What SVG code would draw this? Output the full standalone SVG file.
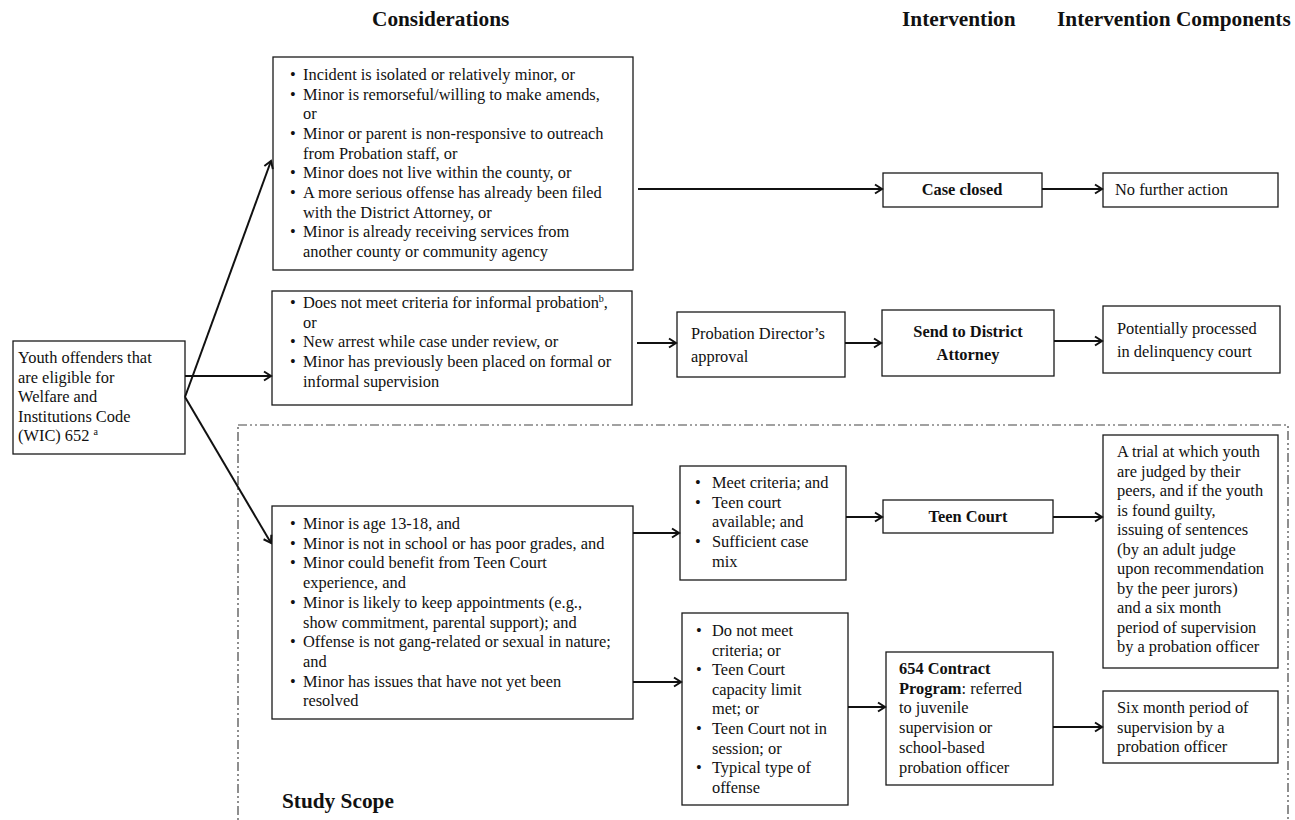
<svg xmlns="http://www.w3.org/2000/svg" width="1295" height="820" viewBox="0 0 1295 820">
<style>
.box{fill:#fff;stroke:#1a1a1a;stroke-width:1.3}
.t{font-family:"Liberation Serif","Times New Roman",serif;font-size:16.4px;fill:#111}
.b{font-weight:bold}
.c{text-anchor:middle}
.h{font-family:"Liberation Serif","Times New Roman",serif;font-size:21.3px;font-weight:bold;fill:#111}
.conn line{stroke:#111;stroke-width:2;fill:none;marker-end:url(#ah)}
.scope{fill:none;stroke:#444;stroke-width:1.2;stroke-dasharray:9 3 2 3 2 3}
.sup{font-size:10px}
</style>
<defs>
<marker id="ah" markerUnits="userSpaceOnUse" markerWidth="12" markerHeight="12" refX="9" refY="6" orient="auto">
<path d="M2,1.5 L9,6 L2,10.5" fill="none" stroke="#111" stroke-width="2"/>
</marker>
</defs>
<rect width="1295" height="820" fill="#fff"/>

<g id="headings">
<text class="h" x="372" y="26">Considerations</text>
<text class="h" x="902" y="26">Intervention</text>
<text class="h" x="1057" y="26">Intervention Components</text>
</g>

<rect id="study-scope" class="scope" x="238" y="425" width="1050" height="410"/>
<text class="h" x="282" y="808">Study Scope</text>

<g id="youth">
<rect class="box" x="13" y="341" width="172" height="113"/>
<text class="t" x="18" y="363">Youth offenders that<tspan x="18" dy="19.6">are eligible for</tspan><tspan x="18" dy="19.6">Welfare and</tspan><tspan x="18" dy="19.6">Institutions Code</tspan><tspan x="18" dy="19.6">(WIC) 652 </tspan><tspan class="sup" dy="-6">a</tspan></text>
</g>

<g id="consider-closed">
<rect class="box" x="273" y="57" width="360" height="213"/>
<text class="t" x="290" y="80">•<tspan x="290" dy="19.67">•</tspan><tspan x="290" dy="39.34">•</tspan><tspan x="290" dy="39.34">•</tspan><tspan x="290" dy="19.67">•</tspan><tspan x="290" dy="39.34">•</tspan></text>
<text class="t" x="303" y="80">Incident is isolated or relatively minor, or<tspan x="303" dy="19.67">Minor is remorseful/willing to make amends,</tspan><tspan x="303" dy="19.67">or</tspan><tspan x="303" dy="19.67">Minor or parent is non-responsive to outreach</tspan><tspan x="303" dy="19.67">from Probation staff, or</tspan><tspan x="303" dy="19.67">Minor does not live within the county, or</tspan><tspan x="303" dy="19.67">A more serious offense has already been filed</tspan><tspan x="303" dy="19.67">with the District Attorney, or</tspan><tspan x="303" dy="19.67">Minor is already receiving services from</tspan><tspan x="303" dy="19.67">another county or community agency</tspan></text>
</g>

<g id="consider-da">
<rect class="box" x="272" y="291" width="360" height="114"/>
<text class="t" x="290" y="308">•<tspan x="290" dy="39.4">•</tspan><tspan x="290" dy="19.7">•</tspan></text>
<text class="t" x="303" y="308">Does not meet criteria for informal probation<tspan class="sup" dy="-6">b</tspan><tspan dy="6">,</tspan><tspan x="303" dy="19.7">or</tspan><tspan x="303" dy="19.7">New arrest while case under review, or</tspan><tspan x="303" dy="19.7">Minor has previously been placed on formal or</tspan><tspan x="303" dy="19.7">informal supervision</tspan></text>
</g>

<g id="consider-teen">
<rect class="box" x="272" y="506" width="361" height="213"/>
<text class="t" x="290" y="529">•<tspan x="290" dy="19.7">•</tspan><tspan x="290" dy="19.7">•</tspan><tspan x="290" dy="39.4">•</tspan><tspan x="290" dy="39.4">•</tspan><tspan x="290" dy="39.4">•</tspan></text>
<text class="t" x="303" y="529">Minor is age 13-18, and<tspan x="303" dy="19.7">Minor is not in school or has poor grades, and</tspan><tspan x="303" dy="19.7">Minor could benefit from Teen Court</tspan><tspan x="303" dy="19.7">experience, and</tspan><tspan x="303" dy="19.7">Minor is likely to keep appointments (e.g.,</tspan><tspan x="303" dy="19.7">show commitment, parental support); and</tspan><tspan x="303" dy="19.7">Offense is not gang-related or sexual in nature;</tspan><tspan x="303" dy="19.7">and</tspan><tspan x="303" dy="19.7">Minor has issues that have not yet been</tspan><tspan x="303" dy="19.7">resolved</tspan></text>
</g>

<g id="meet">
<rect class="box" x="680" y="466" width="166" height="114"/>
<text class="t" x="695" y="488">•<tspan x="695" dy="19.7">•</tspan><tspan x="695" dy="39.4">•</tspan></text>
<text class="t" x="712" y="488">Meet criteria; and<tspan x="712" dy="19.7">Teen court</tspan><tspan x="712" dy="19.7">available; and</tspan><tspan x="712" dy="19.7">Sufficient case</tspan><tspan x="712" dy="19.7">mix</tspan></text>
</g>

<g id="notmeet">
<rect class="box" x="682" y="613" width="166" height="192"/>
<text class="t" x="696" y="636">•<tspan x="696" dy="39.2">•</tspan><tspan x="696" dy="58.8">•</tspan><tspan x="696" dy="39.2">•</tspan></text>
<text class="t" x="712" y="636">Do not meet<tspan x="712" dy="19.6">criteria; or</tspan><tspan x="712" dy="19.6">Teen Court</tspan><tspan x="712" dy="19.6">capacity limit</tspan><tspan x="712" dy="19.6">met; or</tspan><tspan x="712" dy="19.6">Teen Court not in</tspan><tspan x="712" dy="19.6">session; or</tspan><tspan x="712" dy="19.6">Typical type of</tspan><tspan x="712" dy="19.6">offense</tspan></text>
</g>

<g id="probation-approval">
<rect class="box" x="677" y="312" width="168" height="65"/>
<text class="t" x="691" y="339">Probation Director’s<tspan x="691" dy="23">approval</tspan></text>
</g>

<g id="case-closed">
<rect class="box" x="883" y="173" width="159" height="34"/>
<text class="t b c" x="962" y="195">Case closed</text>
</g>

<g id="send-da">
<rect class="box" x="882" y="310" width="172" height="66"/>
<text class="t b c" x="968" y="337">Send to District<tspan x="968" dy="23">Attorney</tspan></text>
</g>

<g id="teen-court">
<rect class="box" x="883" y="500" width="170" height="33"/>
<text class="t b c" x="968" y="522">Teen Court</text>
</g>

<g id="contract-654">
<rect class="box" x="886" y="652" width="167" height="133"/>
<text class="t" x="899" y="674"><tspan class="b">654 Contract</tspan><tspan x="899" dy="19.7" class="b">Program</tspan>: referred<tspan x="899" dy="19.7">to juvenile</tspan><tspan x="899" dy="19.7">supervision or</tspan><tspan x="899" dy="19.7">school-based</tspan><tspan x="899" dy="19.7">probation officer</tspan></text>
</g>

<g id="no-further">
<rect class="box" x="1103" y="173" width="175" height="34"/>
<text class="t" x="1115" y="195">No further action</text>
</g>

<g id="delinquency">
<rect class="box" x="1103" y="306" width="177" height="67"/>
<text class="t" x="1117" y="334">Potentially processed<tspan x="1117" dy="23">in delinquency court</tspan></text>
</g>

<g id="trial">
<rect class="box" x="1103" y="435" width="175" height="233"/>
<text class="t" x="1117" y="457">A trial at which youth<tspan x="1117" dy="19.5">are judged by their</tspan><tspan x="1117" dy="19.5">peers, and if the youth</tspan><tspan x="1117" dy="19.5">is found guilty,</tspan><tspan x="1117" dy="19.5">issuing of sentences</tspan><tspan x="1117" dy="19.5">(by an adult judge</tspan><tspan x="1117" dy="19.5">upon recommendation</tspan><tspan x="1117" dy="19.5">by the peer jurors)</tspan><tspan x="1117" dy="19.5">and a six month</tspan><tspan x="1117" dy="19.5">period of supervision</tspan><tspan x="1117" dy="19.5">by a probation officer</tspan></text>
</g>

<g id="six-month">
<rect class="box" x="1103" y="691" width="175" height="72"/>
<text class="t" x="1117" y="713">Six month period of<tspan x="1117" dy="19.7">supervision by a</tspan><tspan x="1117" dy="19.7">probation officer</tspan></text>
</g>

<g id="connectors" class="conn">
<line x1="185" y1="397" x2="271" y2="161"/>
<line x1="185" y1="376" x2="271" y2="376"/>
<line x1="185" y1="397" x2="271" y2="543"/>
<line x1="638" y1="189" x2="882" y2="189"/>
<line x1="1042" y1="189" x2="1102" y2="189"/>
<line x1="637" y1="343" x2="676" y2="343"/>
<line x1="845" y1="343" x2="881" y2="343"/>
<line x1="1054" y1="341" x2="1102" y2="341"/>
<line x1="633" y1="533" x2="679" y2="533"/>
<line x1="846" y1="517" x2="882" y2="517"/>
<line x1="1053" y1="517" x2="1102" y2="517"/>
<line x1="633" y1="682" x2="681" y2="682"/>
<line x1="848" y1="707" x2="885" y2="707"/>
<line x1="1053" y1="727" x2="1102" y2="727"/>
</g>
</svg>
